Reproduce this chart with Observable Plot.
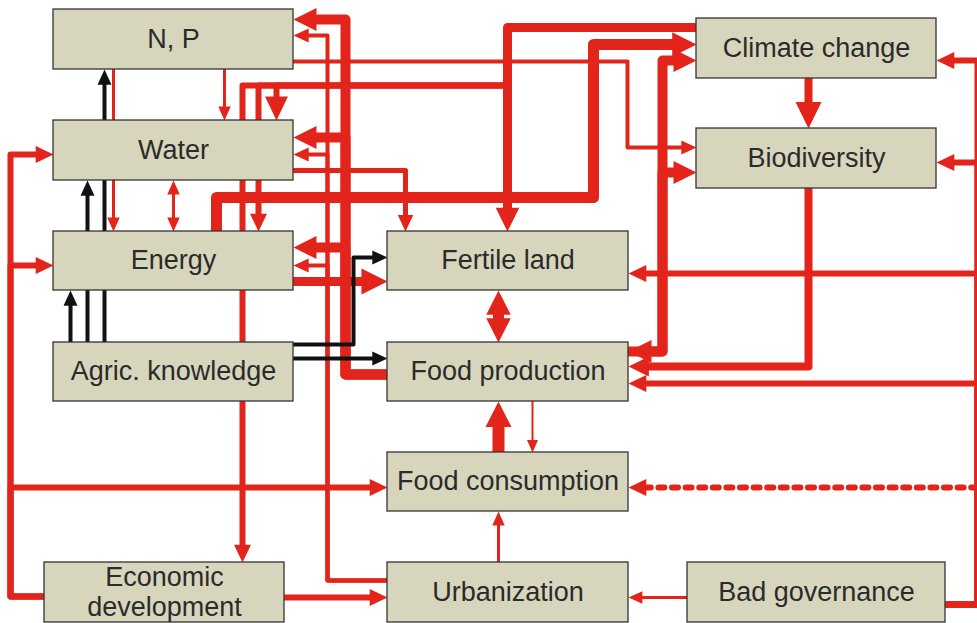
<!DOCTYPE html>
<html><head><meta charset="utf-8">
<script src="https://cdn.jsdelivr.net/npm/d3@7"></script>
<script src="https://cdn.jsdelivr.net/npm/@observablehq/plot@0.6"></script>
<style>html,body{margin:0;padding:0;background:#fff;overflow:hidden}</style>
</head><body><div id="chart"></div>
<script>
// ---- data: nodes of the causal diagram ----
const nodes = ["N, P", "Water", "Energy", "Agric. knowledge", "Economic\ndevelopment",
  "Fertile land", "Food production", "Food consumption", "Urbanization", "Bad governance",
  "Climate change", "Biodiversity"];

// ---- data: links (source, target, strength, kind) ----
const linkFrom = ["Food production","Food production","Food production","Urbanization","Urbanization","Urbanization",
  "N, P","N, P","Water","Agric. knowledge","Agric. knowledge","Agric. knowledge","Agric. knowledge","Agric. knowledge",
  "Energy","Water","Energy","Climate change","Climate change","Climate change","Climate change","N, P",
  "Food production","Food production","Climate change","Biodiversity","Fertile land","Food consumption","Food production","Urbanization",
  "Economic development","Economic development","Economic development","Economic development","Bad governance",
  "Bad governance","Bad governance","Bad governance","Bad governance","Bad governance"];
const linkTo = ["N, P","Water","Energy","N, P","Water","Energy",
  "Water","Energy","Energy","N, P","Water","Energy","Fertile land","Food production",
  "Fertile land","Fertile land","Climate change","Fertile land","Economic development","Water","Energy","Biodiversity",
  "Climate change","Biodiversity","Biodiversity","Food production","Food production","Food production","Food consumption","Food consumption",
  "Water","Energy","Food consumption","Urbanization","Urbanization",
  "Climate change","Biodiversity","Fertile land","Food production","Food consumption"];
const linkStrength = [10,10,10,4,4,4, 3,3,3,4,4,4,4,4, 9,5,11,9,6,6,6,4, 10,10,8,8,11,12,2,3, 6,6,6,6,3, 6,6,6,6,6];
const linkKind = ["neg","neg","neg","neg","neg","neg", "neg","neg","both","pos","pos","pos","pos","pos",
  "neg","neg","neg","neg","neg","neg","neg","neg", "both","neg","neg","neg","both","neg","neg","neg",
  "neg","neg","neg","neg","neg", "neg","neg","neg","neg","weak"];

// ---- layout (pixel space) ----
const boxX1 = [53,53,53,53,44,387,387,387,387,687,696,696];
const boxY1 = [9,120,231,342,562,231,342,452,562,562,18,128];
const boxX2 = [293,293,293,293,284,628,628,628,628,945,936,936];
const boxY2 = [69,180,290,401,622,290,401,511,622,622,78,188];

const FP = [[387,374],[345,374]];
const UR = [[387,580],[327,580]];
const CC = [[696,27],[507,27],[507,85]];
const EC = [[44,596],[10,596]];
const BG = [[945,604],[977,604]];
const FB = [[628,351],[662,351]];
const linkRoute = [
  [...FP,[345,19],[293,19]], [...FP,[345,137],[293,137]], [...FP,[345,247],[293,247]],
  [...UR,[327,35],[293,35]], [...UR,[327,154],[293,154]], [...UR,[327,265],[293,265]],
  [[224,69],[224,120]], [[113,69],[113,231]], [[173,180],[173,231]],
  [[104,342],[104,69]], [[87,342],[87,180]], [[70,342],[70,290]],
  [[293,344],[353,344],[353,257],[387,257]], [[293,358],[387,358]],
  [[293,281],[387,281]], [[293,170],[405,170],[405,231]],
  [[216,231],[216,197],[593,197],[593,44],[696,44]],
  [[696,27],[507,27],[507,231]], [...CC,[242,85],[242,562]], [...CC,[276,85],[276,120]], [...CC,[258,85],[258,231]],
  [[293,61],[627,61],[627,147],[696,147]],
  [...FB,[662,60],[696,60]], [...FB,[662,172],[696,172]],
  [[808,78],[808,128]], [[808,188],[808,366],[628,366]],
  [[498,290],[498,342]], [[498,452],[498,401]], [[532,401],[532,452]], [[498,562],[498,511]],
  [...EC,[10,154],[53,154]], [...EC,[10,265],[53,265]], [...EC,[10,487],[387,487]],
  [[284,597],[387,597]], [[687,597],[628,597]],
  [...BG,[977,60],[936,60]], [...BG,[977,162],[936,162]], [...BG,[977,273],[628,273]],
  [...BG,[977,383],[628,383]], [...BG,[977,487],[628,487]]
];
// arrowhead size factor per link (1 = default)
const headScale = linkFrom.map(() => 1);
headScale[14] = 1.2; headScale[17] = 1.1; headScale[19] = 1.35; headScale[24] = 1.3;

const RED = "#e2241b", BLACK = "#111111";

function head(tip, prev, w, s) {
  const L = (10 + 1.3 * w) * s, W = (8 + 1.5 * w) * s;
  const dx = tip[0] - prev[0], dy = tip[1] - prev[1], len = Math.hypot(dx, dy);
  const ux = dx / len, uy = dy / len;
  const bx = tip[0] - ux * L, by = tip[1] - uy * L;
  return {
    tri: [[tip[0], tip[1]], [bx - uy * W / 2, by + ux * W / 2], [bx + uy * W / 2, by - ux * W / 2]],
    base: [bx + ux * 1.5, by + uy * 1.5]
  };
}

const lineMarks = [], headMarks = [];
const order = linkFrom.map((_, i) => i).sort((a, b) => (linkKind[a] === "pos") - (linkKind[b] === "pos"));
for (const i of order) {
  const pts = linkRoute[i].map(p => p.slice());
  const w = linkStrength[i];
  const color = linkKind[i] === "pos" ? BLACK : RED;
  const n = pts.length;
  const h = head(pts[n - 1], pts[n - 2], w, headScale[i]);
  pts[n - 1] = h.base;
  const heads = [h.tri];
  if (linkKind[i] === "both") {
    const h2 = head(pts[0], pts[1], w, headScale[i]);
    pts[0] = h2.base;
    heads.push(h2.tri);
  }
  if (linkKind[i] === "weak") {
    lineMarks.push(Plot.line(pts.slice(0, n - 1), {x: d => d[0], y: d => d[1], stroke: color, strokeWidth: w, strokeLinejoin: "round"}));
    lineMarks.push(Plot.line(pts.slice(n - 2).reverse(), {x: d => d[0], y: d => d[1], stroke: color, strokeWidth: w, strokeDasharray: "6,7.6"}));
  } else {
    lineMarks.push(Plot.line(pts, {x: d => d[0], y: d => d[1], stroke: color, strokeWidth: w, strokeLinejoin: "round"}));
  }
  for (const t of heads) headMarks.push(Plot.line(t, {x: d => d[0], y: d => d[1], fill: color, stroke: "none", curve: "linear-closed"}));
}

const boxes = nodes.map((label, i) => ({label, x1: boxX1[i], y1: boxY1[i], x2: boxX2[i], y2: boxY2[i]}));

const chart = Plot.plot({
  width: 977, height: 623, margin: 0,
  x: {domain: [0, 977], range: [0, 977], axis: null},
  y: {domain: [0, 623], range: [0, 623], axis: null},
  style: {background: "#fff", overflow: "visible"},
  marks: [
    ...lineMarks,
    ...headMarks,
    Plot.rect(boxes, {x1: "x1", x2: "x2", y1: "y1", y2: "y2", fill: "#d7d6bc", stroke: "#333", strokeWidth: 1.3}),
    Plot.text(boxes, {x: d => (d.x1 + d.x2) / 2, y: d => (d.y1 + d.y2) / 2, text: "label",
      fontSize: 27, lineHeight: 1.12, dy: -1.5, fill: "#2b2b2b",
      fontFamily: "'Liberation Sans', Arial, Helvetica, sans-serif"})
  ]
});
document.getElementById("chart").appendChild(chart);
</script>
</body></html>
